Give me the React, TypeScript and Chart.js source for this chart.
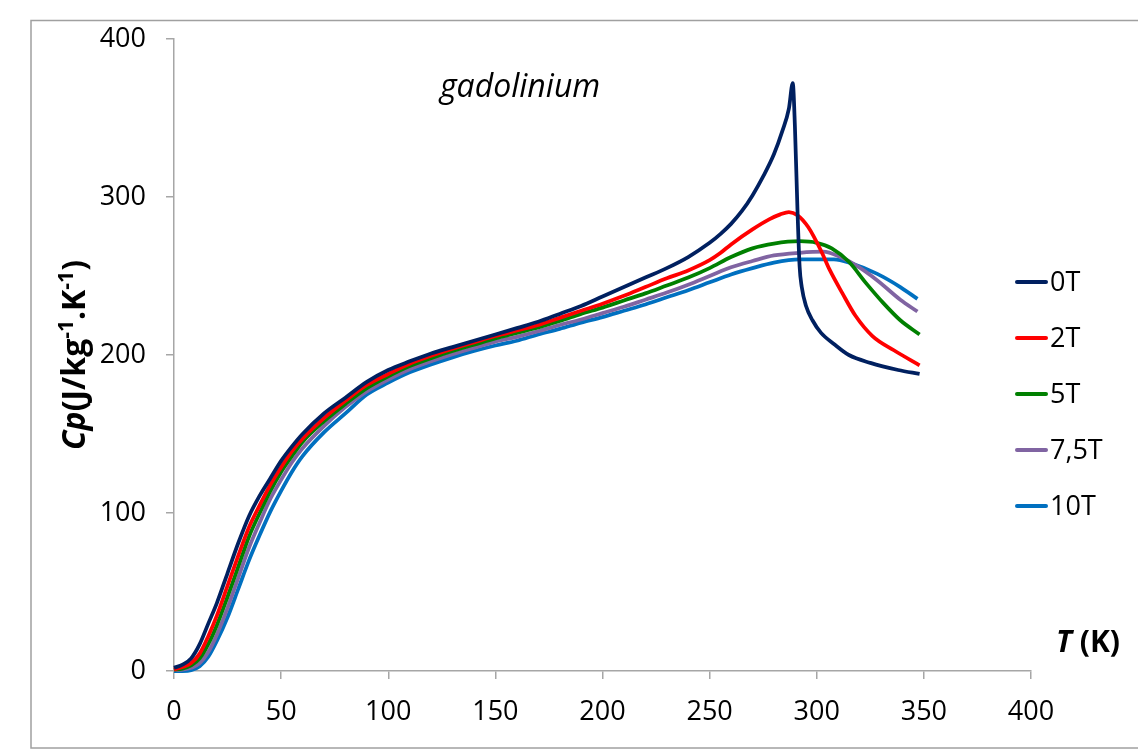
import React, { useEffect, useRef } from "react";
import { Chart, registerables } from "chart.js";

Chart.register(...registerables);

// ---------- DATA ----------
const CHART_TITLE = "gadolinium";
const SERIES_NAMES = ["0T", "2T", "5T", "7,5T", "10T"];
const SERIES_COLORS = ["#002060", "#FF0000", "#008000", "#8064A2", "#0070C0"];
const X_TICKS = [0, 50, 100, 150, 200, 250, 300, 350, 400];
const Y_TICKS = [0, 100, 200, 300, 400];

const T_0T = [0, 4, 8, 12, 16, 20, 25, 30, 35, 40, 45, 50, 55, 60, 70, 80, 90, 100, 110, 120, 130, 140, 150, 160, 170, 180, 190, 200, 210, 220, 230, 240, 250, 255, 260, 265, 270, 275, 280, 284, 287, 288.8, 289.8, 291, 292, 293, 295, 298, 302, 308, 315, 325, 338, 348];
const CP_0T = [2, 4, 8, 17, 30, 43, 62, 81, 98, 111, 122, 133, 142, 150, 163, 173, 183, 190.5, 196, 201, 205, 209, 213, 217, 221, 226, 231, 237, 243, 249, 255, 262, 271, 276.5, 283, 291, 301, 313, 327, 342, 356, 372, 345, 292, 256, 243, 231, 222, 214, 207, 200, 195, 190.5, 188];

const T_2T = [0, 4, 8, 12, 16, 20, 25, 30, 35, 40, 45, 50, 55, 60, 70, 80, 90, 100, 110, 120, 130, 140, 150, 160, 170, 180, 190, 200, 210, 220, 230, 240, 250, 255, 260, 270, 278, 283, 287, 291, 296, 302, 306, 312, 318, 326, 336, 348];
const CP_2T = [1, 2.5, 5, 11, 22, 35, 54, 73, 91, 105, 118, 129, 139, 147, 160, 171, 181, 188, 194.5, 199.5, 204, 208, 212, 215.5, 219, 223.5, 228, 232.5, 237.5, 243, 248.5, 253.5, 260, 264.5, 270, 279.5, 286, 289, 290.5, 288.5, 281, 266, 254, 239, 225, 212, 203, 193.5];

const T_5T = [0, 4, 8, 12, 16, 20, 25, 30, 35, 40, 45, 50, 55, 60, 70, 80, 90, 100, 110, 120, 130, 140, 150, 160, 170, 180, 190, 200, 210, 220, 230, 240, 250, 260, 270, 280, 292, 300, 307, 315, 323, 331, 339, 348];
const CP_5T = [0.8, 1.5, 3.5, 8, 17, 29, 47, 66, 85, 100, 114, 126, 136, 145, 158, 169, 179, 186.5, 193, 198, 202.5, 206.5, 210.5, 214, 217.5, 221.5, 226, 230, 234.5, 239, 244, 249, 255, 262, 267.5, 270.5, 272, 271, 267.5, 259, 245.5, 233, 222, 213];

const T_75T = [0, 4, 8, 12, 16, 20, 25, 30, 35, 40, 45, 50, 55, 60, 70, 80, 90, 100, 110, 120, 130, 140, 150, 160, 170, 180, 190, 200, 210, 220, 230, 240, 250, 260, 270, 280, 292, 303, 311, 318, 328, 339, 347];
const CP_75T = [0.5, 0.8, 2, 5, 12, 23, 40, 59, 78, 94, 109, 121, 132, 141, 155, 167, 177, 184.5, 191, 196, 200.5, 204.5, 208.5, 211.5, 215, 219, 222.5, 226.5, 230.5, 235, 239.5, 244.5, 250, 255.5, 259.5, 263, 264.7, 265.4, 262, 257, 247.5, 235, 227.5];

const T_10T = [0, 4, 8, 12, 16, 20, 25, 30, 35, 40, 45, 50, 55, 60, 70, 80, 90, 100, 110, 120, 130, 140, 150, 160, 170, 180, 190, 200, 210, 220, 230, 240, 250, 260, 270, 280, 292, 308, 316, 328, 339, 347];
const CP_10T = [0, 0, 0.5, 3, 9, 19, 34, 52, 70, 86, 101, 114, 126, 136, 151, 163, 175, 182.5, 189, 194, 198.5, 202.5, 206, 209, 213, 216.5, 220.5, 224, 228, 232, 236.5, 241, 246, 251, 255, 258.5, 260.5, 260.5, 258, 251.5, 243, 235.5];

const SERIES_T = [T_0T, T_2T, T_5T, T_75T, T_10T];
const SERIES_CP = [CP_0T, CP_2T, CP_5T, CP_75T, CP_10T];

// ---------- STYLE ----------
const FONT = "'Open Sans', Lato, sans-serif";
const AXIS_GRAY = "#a6a6a6";

const decorPlugin = {
  id: "decor",
  afterDraw(chart: any) {
    const ctx = chart.ctx as CanvasRenderingContext2D;
    const area = chart.chartArea;
    ctx.save();
    // outer frame
    ctx.strokeStyle = "#a0a0a0";
    ctx.lineWidth = 1.5;
    ctx.strokeRect(31, 20.5, 1200, 727.5);

    ctx.fillStyle = "#000";
    ctx.textBaseline = "alphabetic";
    // title
    ctx.font = `italic 32px ${FONT}`;
    ctx.textAlign = "left";
    ctx.fillText(CHART_TITLE, 440, 97);

    // x axis title: T (K)
    let x = 1056;
    const xy = 652;
    ctx.font = `italic bold 30px ${FONT}`;
    ctx.fillText("T", x, xy);
    x += ctx.measureText("T").width;
    ctx.font = `bold 30px ${FONT}`;
    ctx.fillText(" (K)", x, xy);

    // y axis title rotated
    const parts = [
      { t: "Cp", f: `italic bold 32px ${FONT}`, dy: 0 },
      { t: "(J/kg", f: `bold 32px ${FONT}`, dy: 0 },
      { t: "-1", f: `bold 21px ${FONT}`, dy: -12 },
      { t: ".K", f: `bold 32px ${FONT}`, dy: 0 },
      { t: "-1", f: `bold 21px ${FONT}`, dy: -12 },
      { t: ")", f: `bold 32px ${FONT}`, dy: 0 },
    ];
    let total = 0;
    for (const p of parts) {
      ctx.font = p.f;
      total += ctx.measureText(p.t).width;
    }
    ctx.save();
    ctx.translate(85, (area.top + area.bottom) / 2);
    ctx.rotate(-Math.PI / 2);
    let px = -total / 2;
    for (const p of parts) {
      ctx.font = p.f;
      ctx.fillText(p.t, px, p.dy);
      px += ctx.measureText(p.t).width;
    }
    ctx.restore();

    // legend
    const ds = chart.data.datasets;
    ctx.font = `27px ${FONT}`;
    ctx.textBaseline = "middle";
    ds.forEach((d: any, i: number) => {
      const ly = 282 + i * 56;
      ctx.strokeStyle = d.borderColor;
      ctx.lineWidth = 4;
      ctx.lineCap = "round";
      ctx.beginPath();
      ctx.moveTo(1017, ly);
      ctx.lineTo(1046, ly);
      ctx.stroke();
      ctx.fillText(d.label, 1050, ly + 1);
    });
    ctx.restore();
  },
};

export default function App() {
  const ref = useRef<HTMLCanvasElement | null>(null);
  useEffect(() => {
    if (!ref.current) return;
    const datasets = SERIES_NAMES.map((name, i) => ({
      label: name,
      data: SERIES_T[i].map((t, j) => ({ x: t, y: SERIES_CP[i][j] })),
      borderColor: SERIES_COLORS[i],
      backgroundColor: SERIES_COLORS[i],
      borderWidth: 3.75,
      pointRadius: 0,
      showLine: true,
      cubicInterpolationMode: "monotone" as const,
      clip: 6,
    }));
    const chart = new Chart(ref.current, {
      type: "scatter",
      data: { datasets },
      options: {
        responsive: false,
        animation: false,
        layout: { padding: { left: 0, top: 39, right: 107, bottom: 0 } },
        plugins: { legend: { display: false }, tooltip: { enabled: false }, title: { display: false } },
        scales: {
          x: {
            type: "linear",
            min: 0,
            max: 400,
            afterBuildTicks: (s: any) => {
              s.ticks = X_TICKS.map((v) => ({ value: v }));
            },
            afterFit: (s: any) => {
              s.height = 84;
            },
            ticks: { color: "#000", font: { family: FONT, size: 27 }, padding: 17 },
            grid: { drawOnChartArea: false, drawTicks: true, tickLength: 8, color: AXIS_GRAY, lineWidth: 1.5 },
            border: { display: true, color: AXIS_GRAY, width: 1.5 },
          },
          y: {
            type: "linear",
            min: 0,
            max: 400,
            afterBuildTicks: (s: any) => {
              s.ticks = Y_TICKS.map((v) => ({ value: v }));
            },
            afterFit: (s: any) => {
              s.width = 174;
            },
            ticks: { color: "#000", font: { family: FONT, size: 27 }, padding: 20 },
            grid: { drawOnChartArea: false, drawTicks: true, tickLength: 8, color: AXIS_GRAY, lineWidth: 1.5 },
            border: { display: true, color: AXIS_GRAY, width: 1.5 },
          },
        },
      },
      plugins: [decorPlugin],
    });
    return () => chart.destroy();
  }, []);
  return (
    <div style={{ position: "absolute", left: 0, top: 0, width: 1138, height: 755, background: "#fff" }}>
      <canvas ref={ref} width={1138} height={755} style={{ width: 1138, height: 755, display: "block" }} />
    </div>
  );
}
